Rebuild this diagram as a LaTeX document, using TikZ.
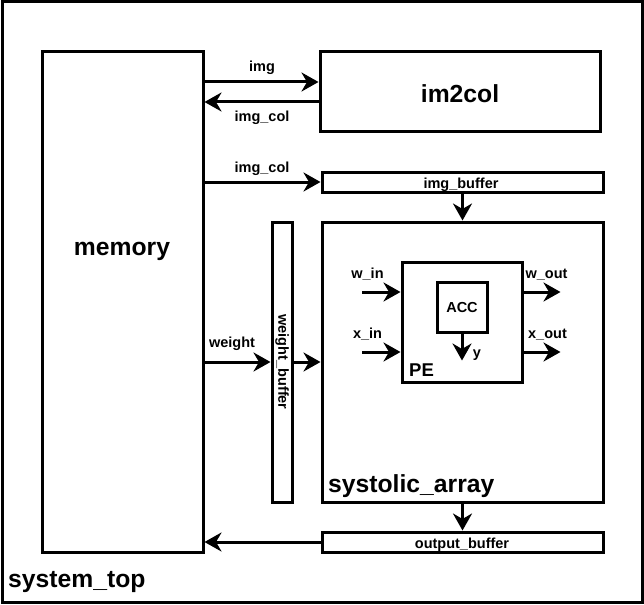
\documentclass[tikz,border=0pt]{standalone}
\usepackage{fontspec}
\setmainfont{Liberation Sans}
\usetikzlibrary{arrows.meta,positioning,calc}

\begin{document}
\begin{tikzpicture}[x=1pt, y=-1pt,
    box/.style={draw=black, fill=white, line width=3pt, inner sep=0pt, outer sep=0pt, font=\fontsize{14.5}{17}\selectfont\bfseries},
    lbl/.style={font=\fontsize{14.5}{17}\selectfont\bfseries, inner sep=0pt, anchor=base},
    biglbl/.style={font=\fontsize{24.7}{29}\selectfont\bfseries, inner sep=0pt, anchor=base},
    flowarrow/.style={-{Stealth[length=17pt, width=19pt, inset=5.5pt]}, line width=3pt, shorten >=1.5pt}
]
    \useasboundingbox (0,0) rectangle (644,604);

    % Top level frame
    \node[box, minimum width=640pt, minimum height=600pt] (top) at (322,302) {};
    \node[biglbl, anchor=base west] (toplbl) at (8,587) {system\_top};

    % Memory
    \node[box, minimum width=161pt, minimum height=500pt] (mem) at (122.5,302) {};
    \node[biglbl] (memlbl) at (122,255) {memory};

    % im2col
    \node[box, minimum width=280pt, minimum height=80pt] (im2col) at (460,92) {};
    \node[biglbl] (im2collbl) at (460,103) {im2col};
    \coordinate (imgin) at ([yshift=10pt]im2col.west);
    \coordinate (colout) at ([yshift=-10pt]im2col.west);

    % Buffers
    \node[box, minimum width=281pt, minimum height=20pt] (imgbuf) at (462.5,182) {};
    \node[lbl] (imgbuflbl) at (461,188) {img\_buffer};
    \node[box, minimum width=20pt, minimum height=280pt] (wbuf) at (282,362) {};
    \node[font=\fontsize{14.5}{17}\selectfont\bfseries, inner sep=0pt, rotate=-90] (wbuflbl) at (wbuf.center) {weight\_buffer};
    \node[box, minimum width=281pt, minimum height=20pt] (outbuf) at (462.5,542) {};
    \node[lbl] (outbuflbl) at (462,548) {output\_buffer};

    % Systolic array
    \node[box, minimum width=281pt, minimum height=280pt] (sys) at (462.5,362) {};
    \node[biglbl, anchor=base west] (syslbl) at (328,492) {systolic\_array};

    % PE
    \node[box, minimum width=120pt, minimum height=120pt] (pe) at (462,322) {};
    \node[font=\fontsize{18.5}{22}\selectfont\bfseries, inner sep=0pt, anchor=base west] (pelbl) at (409,376) {PE};
    \node[box, minimum width=50pt, minimum height=50pt] (acc) at (462,307) {};
    \node[lbl] (acclbl) at (462,312) {ACC};
    \coordinate (win) at (362,292);
    \coordinate (xin) at (362,352);
    \coordinate (wout) at (562,292);
    \coordinate (xout) at (562,352);
    \coordinate (yout) at (462,362);

    % Arrows
    \draw[flowarrow] (mem.east |- imgin) -- (imgin);
    \draw[flowarrow] (colout) -- (mem.east |- colout);
    \draw[flowarrow] (mem.east |- imgbuf.west) -- (imgbuf.west);
    \draw[flowarrow] (imgbuf.south) -- (sys.north);
    \draw[flowarrow] (mem.east |- wbuf.west) -- (wbuf.west);
    \draw[flowarrow] (wbuf.east) -- (wbuf.east -| sys.west);
    \draw[flowarrow] (win) -- (win -| pe.west);
    \draw[flowarrow] (xin) -- (xin -| pe.west);
    \draw[flowarrow] (pe.east |- wout) -- (wout);
    \draw[flowarrow] (pe.east |- xout) -- (xout);
    \draw[flowarrow] (acc.south) -- (yout);
    \draw[flowarrow] (sys.south) -- (outbuf.north);
    \draw[flowarrow] (outbuf.west) -- (outbuf.west -| mem.east);

    % Labels
    \node[lbl] (imglbl) at (262,72) {img};
    \node[lbl] (collbl) at (262,122) {img\_col};
    \node[lbl] (col2lbl) at (262,172) {img\_col};
    \node[lbl] (wlbl) at (232,347) {weight};
    \node[lbl] (winlbl) at (367.5,278) {w\_in};
    \node[lbl] (xinlbl) at (367.5,338) {x\_in};
    \node[lbl] (woutlbl) at (546.5,278) {w\_out};
    \node[lbl] (xoutlbl) at (547.5,338) {x\_out};
    \node[lbl] (ylbl) at (477,357) {y};
\end{tikzpicture}
\end{document}
